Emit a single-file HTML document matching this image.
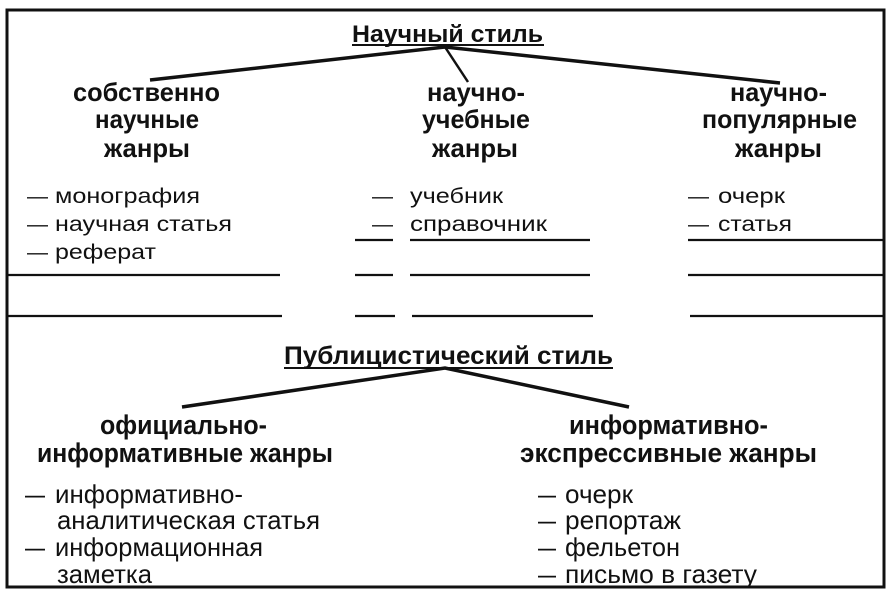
<!DOCTYPE html>
<html><head><meta charset="utf-8"><style>
html,body{margin:0;padding:0;background:#fff;}
svg{display:block;}
text{font-family:"Liberation Sans",Arial,sans-serif;fill:#111;}
.h{font-weight:bold;font-size:26px;}
.l{font-size:21px;}
.b{font-weight:bold;font-size:27px;}
.bl{font-size:26px;}
</style></head><body>
<svg width="889" height="597" viewBox="0 0 889 597" xmlns="http://www.w3.org/2000/svg">
<rect x="7" y="10" width="877" height="577" fill="none" stroke="#111" stroke-width="3"/>
<g stroke="#111" fill="none">
<line x1="352" y1="45" x2="544" y2="45" stroke-width="2"/>
<polyline points="150,80 445,47 780,83" stroke-width="3.5"/>
<line x1="445" y1="47" x2="468" y2="82" stroke-width="2.5"/>
<g stroke-width="2.2">
<line x1="355" y1="240" x2="393" y2="240"/><line x1="410" y1="240" x2="590" y2="240"/><line x1="688" y1="240" x2="883" y2="240"/>
<line x1="7" y1="275" x2="280" y2="275"/><line x1="355" y1="275" x2="393" y2="275"/><line x1="410" y1="275" x2="590" y2="275"/><line x1="688" y1="275" x2="883" y2="275"/>
<line x1="7" y1="316" x2="282" y2="316"/><line x1="355" y1="316" x2="395" y2="316"/><line x1="412" y1="316" x2="593" y2="316"/><line x1="690" y1="316" x2="883" y2="316"/>
</g>
<line x1="284" y1="368" x2="613" y2="368" stroke-width="2"/>
<polyline points="182,407 445,368 629,407" stroke-width="3.5"/>
</g>
<text class="h" x="352" y="42" textLength="191" lengthAdjust="spacingAndGlyphs" style="font-size:24px">Научный стиль</text>

<text class="h" x="73" y="101" textLength="147" lengthAdjust="spacingAndGlyphs">собственно</text>
<text class="h" x="95" y="128" textLength="104" lengthAdjust="spacingAndGlyphs">научные</text>
<text class="h" x="104" y="157" textLength="86" lengthAdjust="spacingAndGlyphs">жанры</text>

<text class="h" x="427" y="101" textLength="98" lengthAdjust="spacingAndGlyphs">научно-</text>
<text class="h" x="422" y="128" textLength="108" lengthAdjust="spacingAndGlyphs">учебные</text>
<text class="h" x="432" y="157" textLength="86" lengthAdjust="spacingAndGlyphs">жанры</text>

<text class="h" x="730" y="101" textLength="97" lengthAdjust="spacingAndGlyphs">научно-</text>
<text class="h" x="702" y="128" textLength="155" lengthAdjust="spacingAndGlyphs">популярные</text>
<text class="h" x="735" y="157" textLength="87" lengthAdjust="spacingAndGlyphs">жанры</text>

<text class="l" x="27" y="203">—</text><text class="l" x="55" y="203" textLength="145" lengthAdjust="spacingAndGlyphs">монография</text>
<text class="l" x="27" y="231">—</text><text class="l" x="55" y="231" textLength="177" lengthAdjust="spacingAndGlyphs">научная статья</text>
<text class="l" x="27" y="259">—</text><text class="l" x="55" y="259" textLength="101" lengthAdjust="spacingAndGlyphs">реферат</text>

<text class="l" x="372" y="203">—</text><text class="l" x="410" y="203" textLength="93" lengthAdjust="spacingAndGlyphs">учебник</text>
<text class="l" x="372" y="231">—</text><text class="l" x="410" y="231" textLength="137" lengthAdjust="spacingAndGlyphs">справочник</text>

<text class="l" x="688" y="203">—</text><text class="l" x="718" y="203" textLength="67" lengthAdjust="spacingAndGlyphs">очерк</text>
<text class="l" x="688" y="231">—</text><text class="l" x="718" y="231" textLength="74" lengthAdjust="spacingAndGlyphs">статья</text>

<text class="b" x="284" y="364" textLength="329" lengthAdjust="spacingAndGlyphs" style="font-size:25px">Публицистический стиль</text>
<text class="b" x="100" y="434" textLength="167" lengthAdjust="spacingAndGlyphs">официально-</text>
<text class="b" x="37" y="462" textLength="296" lengthAdjust="spacingAndGlyphs">информативные жанры</text>
<text class="b" x="569" y="434" textLength="199" lengthAdjust="spacingAndGlyphs">информативно-</text>
<text class="b" x="520" y="462" textLength="297" lengthAdjust="spacingAndGlyphs">экспрессивные жанры</text>

<text class="bl" x="25" y="503" textLength="20" lengthAdjust="spacingAndGlyphs">—</text><text class="bl" x="55" y="503" textLength="188" lengthAdjust="spacingAndGlyphs">информативно-</text>
<text class="bl" x="57" y="529" textLength="263" lengthAdjust="spacingAndGlyphs">аналитическая статья</text>
<text class="bl" x="25" y="556" textLength="20" lengthAdjust="spacingAndGlyphs">—</text><text class="bl" x="55" y="556" textLength="208" lengthAdjust="spacingAndGlyphs">информационная</text>
<text class="bl" x="57" y="583" textLength="95" lengthAdjust="spacingAndGlyphs">заметка</text>

<text class="bl" x="538" y="503" textLength="18" lengthAdjust="spacingAndGlyphs">—</text><text class="bl" x="565" y="503" textLength="68" lengthAdjust="spacingAndGlyphs">очерк</text>
<text class="bl" x="538" y="529" textLength="18" lengthAdjust="spacingAndGlyphs">—</text><text class="bl" x="565" y="529" textLength="116" lengthAdjust="spacingAndGlyphs">репортаж</text>
<text class="bl" x="538" y="556" textLength="18" lengthAdjust="spacingAndGlyphs">—</text><text class="bl" x="565" y="556" textLength="115" lengthAdjust="spacingAndGlyphs">фельетон</text>
<text class="bl" x="538" y="583" textLength="18" lengthAdjust="spacingAndGlyphs">—</text><text class="bl" x="565" y="583" textLength="192" lengthAdjust="spacingAndGlyphs">письмо в газету</text>
</svg>
</body></html>
